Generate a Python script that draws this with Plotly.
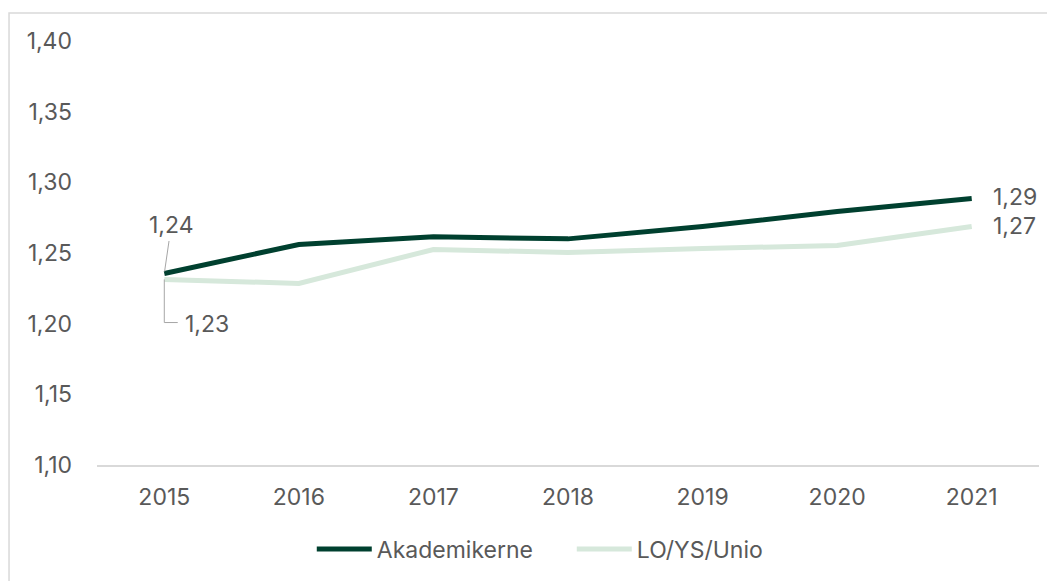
import plotly.graph_objects as go

years = ["2015", "2016", "2017", "2018", "2019", "2020", "2021"]
akademikerne = [1.2355, 1.256, 1.2615, 1.260, 1.2687, 1.2793, 1.2885]
lo_ys_unio = [1.2313, 1.2285, 1.2525, 1.2504, 1.2532, 1.2553, 1.2687]
y_ticks = [1.10, 1.15, 1.20, 1.25, 1.30, 1.35, 1.40]
y_tick_labels = ["1,10", "1,15", "1,20", "1,25", "1,30", "1,35", "1,40"]

DARK = "#00402f"
LIGHT = "#d6e8db"
TXT = "#595959"
FONT = "Inter, Roboto, sans-serif"
FS = 23

def fmt(v):
    return f"{v:.2f}".replace(".", ",")

fig = go.Figure()
fig.add_trace(go.Scatter(x=list(range(len(years))), y=akademikerne, mode="lines",
                         name="Akademikerne", line=dict(color=DARK, width=5)))
fig.add_trace(go.Scatter(x=list(range(len(years))), y=lo_ys_unio, mode="lines",
                         name="LO/YS/Unio", line=dict(color=LIGHT, width=5)))

annotations = []
annotations.append(dict(x=0, y=akademikerne[0], xref="x", yref="y", text=fmt(akademikerne[0]),
                        showarrow=True, arrowhead=0, arrowwidth=1, arrowcolor="#a6a6a6",
                        ax=7, ay=-48, standoff=2, font=dict(family=FONT, size=FS, color=TXT)))
y_elbow = lo_ys_unio[0] - 0.0305
x_elbow = 0.105
annotations.append(dict(x=x_elbow, y=y_elbow, xref="x", yref="y", text=fmt(lo_ys_unio[0]),
                        showarrow=False, xanchor="left", xshift=5, yshift=-1,
                        font=dict(family=FONT, size=FS, color=TXT)))
annotations.append(dict(x=len(years) - 1, y=akademikerne[-1], xref="x", yref="y",
                        text=fmt(akademikerne[-1]), showarrow=False, xanchor="left", xshift=19,
                        yshift=2, font=dict(family=FONT, size=FS, color=TXT)))
annotations.append(dict(x=len(years) - 1, y=lo_ys_unio[-1], xref="x", yref="y",
                        text=fmt(lo_ys_unio[-1]), showarrow=False, xanchor="left", xshift=19,
                        yshift=1, font=dict(family=FONT, size=FS, color=TXT)))

shapes = [
    dict(type="line", xref="x", yref="y", x0=0, x1=0, y0=lo_ys_unio[0], y1=y_elbow,
         line=dict(color="#a6a6a6", width=1)),
    dict(type="line", xref="x", yref="y", x0=0, x1=x_elbow - 0.005, y0=y_elbow, y1=y_elbow,
         line=dict(color="#a6a6a6", width=1)),
    dict(type="rect", xref="paper", yref="paper", x0=-0.0934, x1=1.2, y0=-0.6, y1=1.0659,
         line=dict(color="#d9d9d9", width=1.5), fillcolor="rgba(0,0,0,0)", layer="below"),
]

fig.update_layout(
    width=1047, height=573,
    margin=dict(l=89, r=16, t=33, b=115),
    paper_bgcolor="white", plot_bgcolor="white",
    font=dict(family=FONT, size=FS, color=TXT),
    showlegend=True,
    legend=dict(orientation="h", x=0.228, xanchor="left", y=-0.145, yanchor="top",
                font=dict(family=FONT, size=FS, color=TXT), itemwidth=55,
                entrywidth=190, entrywidthmode="pixels", tracegroupgap=0),
    annotations=annotations,
    shapes=shapes,
)
fig.update_xaxes(range=[-0.5, len(years) - 0.5], tickvals=list(range(len(years))),
                 ticktext=years, showgrid=False, zeroline=False, showline=True,
                 linecolor="#d9d9d9", linewidth=1.5, ticks="", ticklabelstandoff=11,
                 tickfont=dict(family=FONT, size=FS, color=TXT))
fig.update_yaxes(range=[1.10, 1.40], tickvals=y_ticks, ticktext=y_tick_labels,
                 showgrid=False, zeroline=False, showline=False, ticks="",
                 ticklabelstandoff=24, tickfont=dict(family=FONT, size=FS, color=TXT))

fig.write_html("out.html")
